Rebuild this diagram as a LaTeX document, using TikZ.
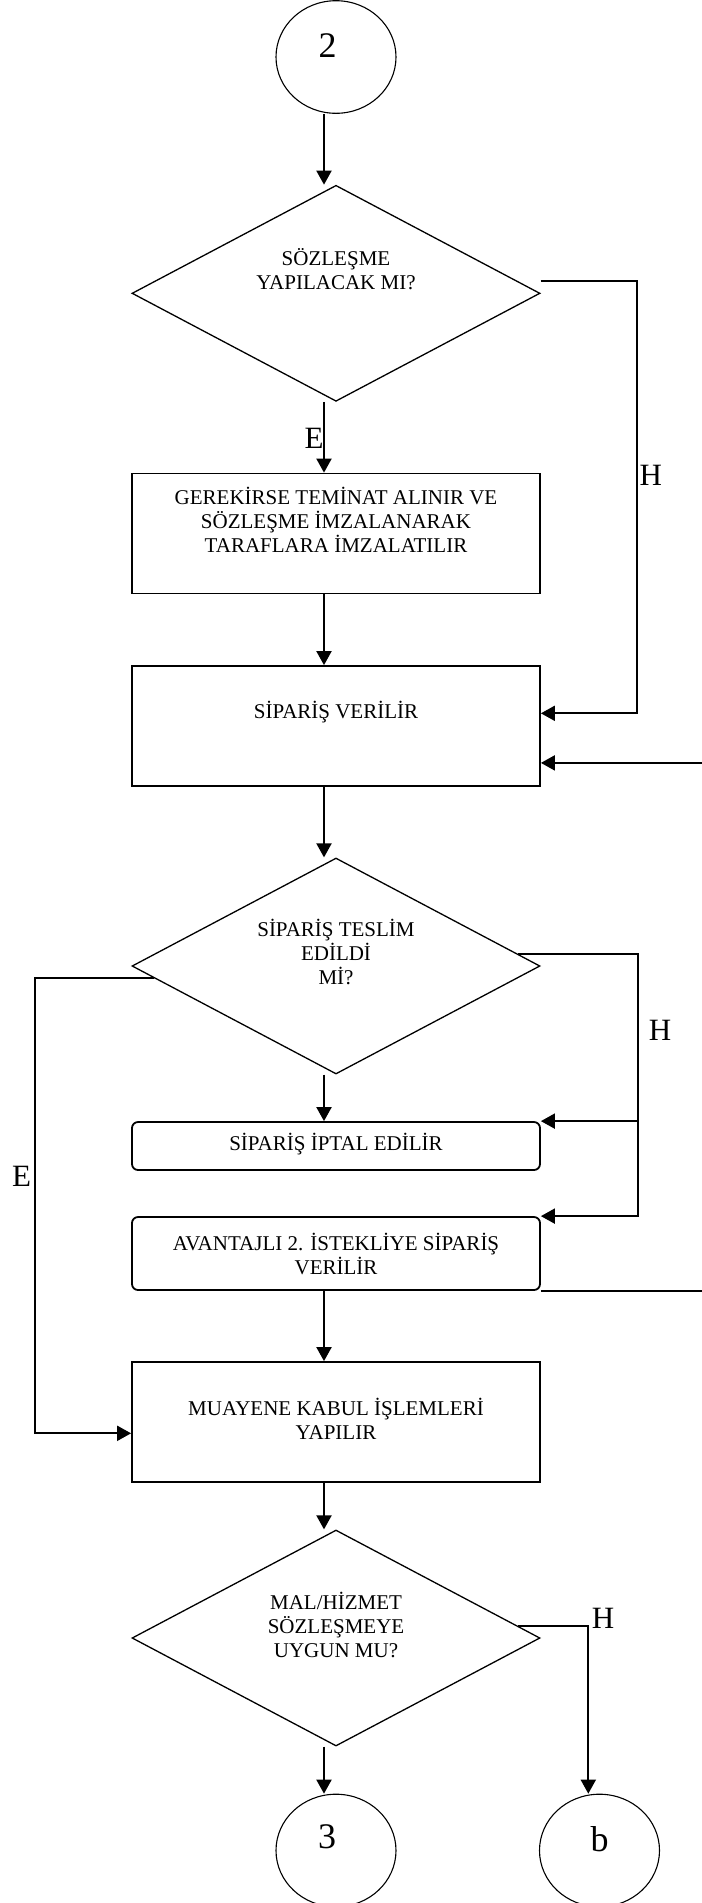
\documentclass[tikz,border=0pt]{standalone}
\usepackage{fontspec}
\setmainfont{Liberation Serif}
\usepackage{tikz}
\usetikzlibrary{shapes,arrows.meta,calc,positioning}
\tikzstyle{decision} = [draw, diamond, line width=0.65pt, minimum width=204pt, minimum height=108pt, inner sep=0pt]
\tikzstyle{process} = [draw, rectangle, line width=0.9pt, minimum width=204pt, minimum height=60pt, inner sep=0pt]
\tikzstyle{action} = [draw, rectangle, rounded corners=3pt, line width=0.9pt, minimum width=204pt, inner sep=0pt]
\tikzstyle{terminal} = [draw, ellipse, line width=0.55pt, minimum width=60pt, minimum height=56.3pt, inner sep=0pt]
\tikzstyle{boxtext} = [align=center, inner sep=0pt, font=\fontsize{10.5pt}{12pt}\selectfont]
\tikzstyle{marker} = [inner sep=0pt, font=\fontsize{18pt}{20pt}\selectfont]
\tikzstyle{answer} = [inner sep=0pt, font=\fontsize{15.5pt}{18pt}\selectfont]
\tikzstyle{arrow} = [draw, line width=1pt, -{Triangle[length=7pt,width=7.5pt]}]
\newcommand{\terminal}[1]{node (c#1) [terminal] {}}
\newcommand{\decision}[1]{node (d#1) [decision] {}}
\newcommand{\process}[1]{node (p#1) [process] {}}
\newcommand{\action}[2]{node (a#1) [action, minimum height=#2] {}}
\newcommand{\boxtext}[2]{node (t#1) [boxtext] {#2}}
\newcommand{\marker}[2]{node (m#1) [marker] {#2}}
\newcommand{\answer}[2]{node (l#1) [answer] {#2}}
\begin{document}
\begin{tikzpicture}[x=0.5pt,y=-0.5pt]
\clip (0,0) rectangle (702,1903);
\path (336,57) \terminal{1};
\path (c1)+(-8.5,-11) \marker{1}{2};

\path (c1)+(0,236.3) \decision{1};
\path (d1)+(0,-24) \boxtext{1}{SÖZLEŞME\\YAPILACAK MI?};
\path [arrow] ([xshift=-6pt]c1.south) -- ([xshift=-6pt]c1.south |- d1.north);

\path (d1)+(0,240.2) \process{1};
\path (p1)+(0,-13.5) \boxtext{2}{GEREKİRSE TEMİNAT ALINIR VE\\SÖZLEŞME İMZALANARAK\\TARAFLARA İMZALATILIR};
\path [arrow] ([xshift=-6pt]d1.south) -- ([xshift=-6pt]p1.north);
\path (p1.north)+(-22,-34) \answer{1}{E};

\path (p1)+(0,192.5) \process{2};
\path (p2)+(0,-14) \boxtext{3}{SİPARİŞ VERİLİR};
\path [arrow] ([xshift=-6pt]p1.south) -- ([xshift=-6pt]p2.north);
\path [arrow] ([yshift=6pt]d1.east) -- ++(96.5,0) |- ([yshift=6.35pt]p2.east);
\path (p1.north east)+(110,3) \answer{2}{H};

\path (p2)+(0,240) \decision{2};
\path (d2)+(0,-14) \boxtext{4}{SİPARİŞ TESLİM\\EDİLDİ\\Mİ?};
\path [arrow] ([xshift=-6pt]p2.south) -- ([xshift=-6pt]p2.south |- d2.north);

\path (d2)+(0,180) \action{1}{24pt};
\path (a1)+(0,-2) \boxtext{5}{SİPARİŞ İPTAL EDİLİR};
\path [arrow] ([xshift=-6pt]d2.south) -- ([xshift=-6pt]a1.north);

\path (a1)+(0,107.5) \action{2}{36.5pt};
\path (a2) \boxtext{6}{AVANTAJLI 2. İSTEKLİYE SİPARİŞ\\VERİLİR};

% H branch of the delivery check
\coordinate (h2) at ([xshift=48.3pt]a1.north east);
\path [arrow] ($(d2.east)!0.11!(d2.north)$) -| (h2) |- (a2.north east);
\path [arrow] (h2) -- (a1.north east);
\path (d2)+(324,64) \answer{3}{H};

\path (a2)+(0,168.5) \process{3};
\path (p3)+(0,-3) \boxtext{7}{MUAYENE KABUL İŞLEMLERİ\\YAPILIR};
\path [arrow] ([xshift=-6pt]a2.south) -- ([xshift=-6pt]p3.north);
\path [arrow] ($(d2.west)!0.11!(d2.south)$) -- ++(-119,0) |- ([yshift=-5.65pt]p3.west);
\path (d2)+(-314.3,210.7) \answer{4}{E};

% loop back to the order box, running off the page
\path [arrow] (a2.south east) -- ++(200,0) |- ([yshift=12pt]p2.south east);

\path (p3)+(0,216) \decision{3};
\path (d3)+(0,-13.5) \boxtext{8}{MAL/HİZMET\\SÖZLEŞMEYE\\UYGUN MU?};
\path [arrow] ([xshift=-6pt]p3.south) -- ([xshift=-6pt]p3.south |- d3.north);

\path (d3)+(0,212.5) \terminal{2};
\path (c2)+(-9,-13.5) \marker{2}{3};
\path [arrow] ([xshift=-6pt]d3.south) -- ([xshift=-6pt]d3.south |- c2.north);

\path (c2)+(263.5,0) \terminal{3};
\path (c3)+(0,-11.5) \marker{3}{b};
\path [arrow] ($(d3.east)!0.11!(d3.north)$) -| ([xshift=-5.6pt]c3.north);
\path (d3)+(267,-19.5) \answer{5}{H};
\end{tikzpicture}
\end{document}
